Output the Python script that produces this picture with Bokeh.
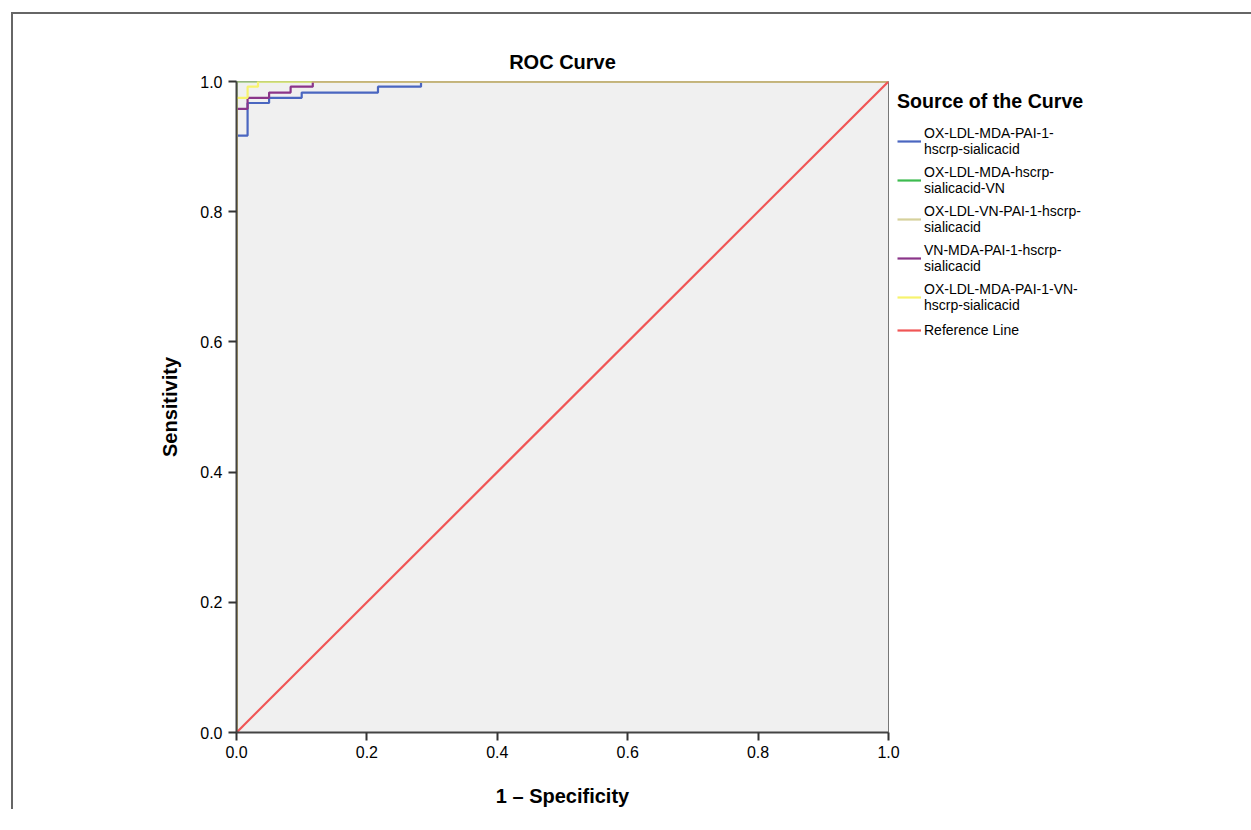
from bokeh.plotting import figure
from bokeh.models import Legend, LegendItem, Range1d, FixedTicker, PrintfTickFormatter
from bokeh.embed import file_html
from bokeh.resources import INLINE

# ROC curve data (1 - specificity, sensitivity)
fpr_a = [0, 0, 0.017, 0.017, 0.05, 0.05, 0.1, 0.1, 0.217, 0.217, 0.283, 0.283, 1.0]
tpr_a = [0, 0.917, 0.917, 0.967, 0.967, 0.975, 0.975, 0.983, 0.983, 0.992, 0.992, 1.0, 1.0]

fpr_b = [0, 0, 1.0]
tpr_b = [0, 1.0, 1.0]

fpr_c = [0, 0, 1.0]
tpr_c = [0, 1.0, 1.0]

fpr_d = [0, 0, 0.017, 0.017, 0.05, 0.05, 0.083, 0.083, 0.117, 0.117, 1.0]
tpr_d = [0, 0.958, 0.958, 0.975, 0.975, 0.983, 0.983, 0.992, 0.992, 1.0, 1.0]

fpr_e = [0, 0, 0.017, 0.017, 0.033, 0.033, 1.0]
tpr_e = [0, 0.975, 0.975, 0.992, 0.992, 1.0, 1.0]

ref_x = [0, 1]
ref_y = [0, 1]

labels = [
    "OX-LDL-MDA-PAI-1-\nhscrp-sialicacid",
    "OX-LDL-MDA-hscrp-\nsialicacid-VN",
    "OX-LDL-VN-PAI-1-hscrp-\nsialicacid",
    "VN-MDA-PAI-1-hscrp-\nsialicacid",
    "OX-LDL-MDA-PAI-1-VN-\nhscrp-sialicacid",
    "Reference Line",
]
colors = ["#4a66c0", "#3dbb4f", "#d6d19c", "#8a3589", "#f7f36e", "#f05555"]
ticks = [0.0, 0.2, 0.4, 0.6, 0.8, 1.0]

FONT = "Liberation Sans"

p = figure(frame_width=652, frame_height=651, output_backend="svg", toolbar_location=None,
           x_range=Range1d(0, 1), y_range=Range1d(0, 1),
           min_border_left=223, min_border_top=67, min_border_bottom=76, min_border_right=345,
           title="ROC Curve")
p.styles = {"margin-top": "12px", "margin-left": "11px",
            "border-top": "2px solid #666666", "border-left": "2px solid #666666"}

p.background_fill_color = "#f0f0f0"
p.border_fill_color = "white"
p.outline_line_color = "#777777"
p.outline_line_width = 1
p.xgrid.visible = False
p.ygrid.visible = False

p.title.align = "center"
p.title.text_font = FONT
p.title.text_font_size = "20px"
p.title.text_font_style = "bold"
p.title.text_color = "black"
p.title.standoff = 17

for ax in (p.xaxis[0], p.yaxis[0]):
    ax.ticker = FixedTicker(ticks=ticks)
    ax.formatter = PrintfTickFormatter(format="%.1f")
    ax.minor_tick_line_color = None
    ax.major_tick_in = 0
    ax.major_tick_out = 8
    ax.major_tick_line_color = "#333333"
    ax.major_tick_line_width = 2
    ax.axis_line_color = "#444444"
    ax.axis_line_width = 2
    ax.major_label_text_font = FONT
    ax.major_label_text_font_size = "16px"
    ax.major_label_text_color = "black"
    ax.axis_label_text_font = FONT
    ax.axis_label_text_font_size = "20px"
    ax.axis_label_text_font_style = "bold"
    ax.axis_label_text_color = "black"

p.xaxis[0].axis_label = "1 \u2013 Specificity"
p.yaxis[0].axis_label = "Sensitivity"
p.xaxis[0].major_label_standoff = 5
p.yaxis[0].major_label_standoff = 6
p.xaxis[0].axis_label_standoff = 24
p.yaxis[0].axis_label_standoff = 16

series = [(fpr_a, tpr_a), (fpr_b, tpr_b), (fpr_c, tpr_c), (fpr_d, tpr_d), (fpr_e, tpr_e), (ref_x, ref_y)]
renderers = []
for (xs, ys), c in zip(series, colors):
    r = p.line(xs, ys, line_color=c, line_width=2.2)
    renderers.append(r)

items = [LegendItem(label=lab, renderers=[r]) for lab, r in zip(labels, renderers)]
legend = Legend(items=items, location="top_left")
legend.title = "Source of the Curve"
legend.title_text_font = FONT
legend.title_text_font_size = "19.6px"
legend.title_text_font_style = "bold"
legend.title_text_color = "black"
legend.title_standoff = 12
legend.label_text_font = FONT
legend.label_text_font_size = "14px"
legend.label_text_color = "black"
legend.glyph_width = 24
legend.glyph_height = 20
legend.label_standoff = 3
legend.spacing = 7
legend.padding = 0
legend.margin = 9
legend.border_line_color = None
legend.background_fill_alpha = 0
p.add_layout(legend, "right")

open("out.html", "w").write(file_html(p, INLINE))
